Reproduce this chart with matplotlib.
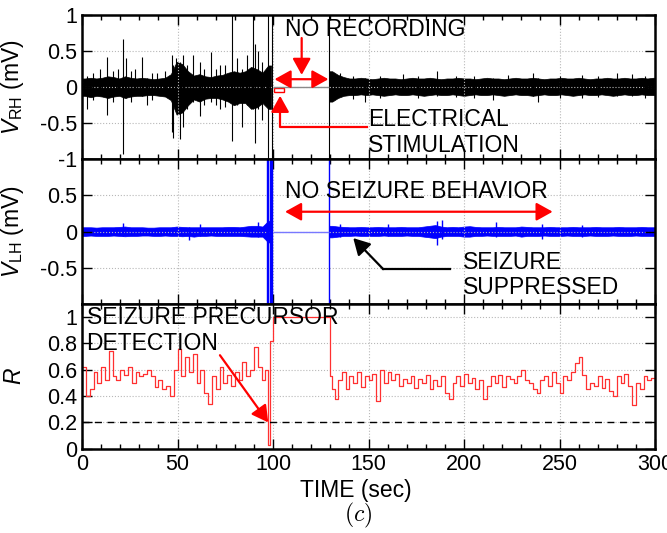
import numpy as np
import matplotlib
matplotlib.use("Agg")
import matplotlib.pyplot as plt
from matplotlib.patches import Rectangle
from matplotlib.ticker import MultipleLocator

plt.rcParams['font.family'] = ['Liberation Sans', 'DejaVu Sans']
plt.rcParams['mathtext.fontset'] = 'custom'
plt.rcParams['mathtext.rm'] = 'Liberation Sans'
plt.rcParams['mathtext.it'] = 'Liberation Sans:italic'
plt.rcParams['axes.unicode_minus'] = False

# noise envelope (mV) in 3 s bins, before and after the gap
BIN = 3.0
PRE_START = 0.0
POST_START = 129.5

rh_pre_hi = [0.12, 0.13, 0.12, 0.13, 0.15, 0.14, 0.12, 0.15, 0.13, 0.12,
             0.13, 0.12, 0.11, 0.12, 0.13, 0.18, 0.35, 0.32, 0.22, 0.16,
             0.18, 0.15, 0.14, 0.16, 0.17, 0.20, 0.22, 0.20, 0.22, 0.28,
             0.25, 0.20, 0.30]
rh_pre_lo = [-0.12, -0.14, -0.12, -0.13, -0.15, -0.13, -0.12, -0.15, -0.13, -0.12,
             -0.12, -0.11, -0.11, -0.12, -0.13, -0.18, -0.38, -0.35, -0.25, -0.17,
             -0.20, -0.16, -0.15, -0.15, -0.17, -0.20, -0.25, -0.22, -0.22, -0.30,
             -0.28, -0.22, -0.30]
rh_post_hi = [0.22, 0.17, 0.14, 0.12, 0.12, 0.13, 0.12, 0.11, 0.12, 0.13,
              0.12, 0.12, 0.11, 0.12, 0.13, 0.12, 0.12, 0.13, 0.12, 0.11,
              0.12, 0.12, 0.13, 0.12, 0.12, 0.11, 0.12, 0.13, 0.12, 0.12,
              0.11, 0.12, 0.13, 0.12, 0.12, 0.13, 0.12, 0.11, 0.12, 0.12,
              0.13, 0.12, 0.12, 0.13, 0.12, 0.11, 0.12, 0.12, 0.13, 0.12,
              0.12, 0.13, 0.12, 0.12, 0.13, 0.12, 0.13]
rh_post_lo = [-0.20, -0.15, -0.12, -0.11, -0.11, -0.10, -0.11, -0.10, -0.11, -0.12,
              -0.11, -0.10, -0.11, -0.11, -0.10, -0.11, -0.12, -0.11, -0.10, -0.11,
              -0.11, -0.10, -0.11, -0.12, -0.11, -0.10, -0.11, -0.11, -0.10, -0.11,
              -0.12, -0.11, -0.10, -0.11, -0.11, -0.12, -0.11, -0.10, -0.11, -0.11,
              -0.10, -0.11, -0.12, -0.11, -0.10, -0.11, -0.11, -0.10, -0.11, -0.12,
              -0.11, -0.10, -0.11, -0.11, -0.10, -0.11, -0.11]

# isolated spikes on the right hemisphere trace (time, min, max)
rh_spike_t = [2.8, 5.5, 9.4, 13.2, 16.0, 19.0, 21.6, 23.0, 25.5, 27.7, 31.2, 33.8,
              36.5, 39.0, 43.4, 46.9, 47.8, 49.2, 51.3, 53.0, 55.0, 57.9, 61.7,
              64.0, 67.4, 70.0, 72.2, 75.0, 78.3, 81.3, 83.5, 86.2, 89.3, 90.5,
              92.3, 94.0, 97.5, 99.3, 129.4,
              135.0, 142.0, 148.0, 156.0, 168.0, 176.0, 185.7, 196.0, 205.0,
              215.0, 223.0, 236.0, 238.5, 250.0, 262.0, 270.0, 280.0, 287.8, 295.0]
rh_spike_lo = [-0.30, -0.18, -0.10, -0.38, -0.20, -0.10, -0.92, -0.15, -0.20, -0.10,
               -0.12, -0.25, -0.18, -0.10, -0.12, -0.62, -0.70, -0.30, -0.72, -0.55,
               -0.30, -0.20, -0.40, -0.25, -0.20, -0.25, -0.30, -0.28, -0.75, -0.25,
               -0.55, -0.25, -0.30, -0.78, -0.30, -0.45, -1.0, -1.0, -1.0,
               -0.12, -0.16, -0.20, -0.15, -0.10, -0.15, -0.12, -0.14, -0.15,
               -0.18, -0.10, -0.12, -0.20, -0.15, -0.15, -0.14, -0.12, -0.12, -0.15]
rh_spike_hi = [0.15, 0.20, 0.25, 0.42, 0.22, 0.25, 0.66, 0.40, 0.22, 0.25,
               0.42, 0.12, 0.20, 0.20, 0.22, 0.45, 0.30, 0.40, 0.35, 0.45,
               0.30, 0.45, 0.35, 0.25, 0.48, 0.25, 0.30, 0.30, 1.0, 0.40,
               0.25, 0.45, 1.0, 0.60, 0.50, 0.35, 1.0, 1.0, 1.0,
               0.20, 0.16, 0.12, 0.16, 0.18, 0.16, 0.22, 0.15, 0.16,
               0.12, 0.17, 0.20, 0.12, 0.16, 0.17, 0.15, 0.20, 0.18, 0.16]

lh_pre_hi = [0.06, 0.06, 0.055, 0.06, 0.06, 0.06, 0.065, 0.07, 0.06, 0.06,
             0.06, 0.055, 0.055, 0.06, 0.06, 0.06, 0.07, 0.065, 0.06, 0.06,
             0.06, 0.06, 0.06, 0.06, 0.06, 0.065, 0.065, 0.06, 0.07, 0.08,
             0.08, 0.07, 0.15]
lh_pre_lo = [-0.06, -0.055, -0.06, -0.06, -0.06, -0.055, -0.06, -0.065, -0.06, -0.06,
             -0.055, -0.055, -0.06, -0.06, -0.055, -0.06, -0.06, -0.065, -0.06, -0.07,
             -0.06, -0.06, -0.055, -0.06, -0.06, -0.06, -0.06, -0.06, -0.065, -0.07,
             -0.07, -0.07, -0.15]
lh_post_hi = [0.08, 0.07, 0.065, 0.06, 0.06, 0.065, 0.06, 0.06, 0.065, 0.06,
              0.06, 0.06, 0.065, 0.06, 0.06, 0.06, 0.07, 0.08, 0.09, 0.07,
              0.06, 0.065, 0.06, 0.07, 0.075, 0.065, 0.06, 0.06, 0.06, 0.065,
              0.06, 0.06, 0.06, 0.07, 0.065, 0.06, 0.06, 0.06, 0.065, 0.06,
              0.06, 0.06, 0.065, 0.06, 0.06, 0.06, 0.065, 0.06, 0.06, 0.06,
              0.065, 0.06, 0.06, 0.06, 0.065, 0.06, 0.06]
lh_post_lo = [-0.08, -0.07, -0.06, -0.06, -0.055, -0.06, -0.06, -0.06, -0.06, -0.055,
              -0.06, -0.06, -0.06, -0.055, -0.06, -0.06, -0.07, -0.08, -0.09, -0.07,
              -0.06, -0.06, -0.06, -0.07, -0.07, -0.06, -0.06, -0.055, -0.06, -0.06,
              -0.06, -0.06, -0.055, -0.07, -0.06, -0.06, -0.06, -0.055, -0.06, -0.06,
              -0.06, -0.055, -0.06, -0.06, -0.06, -0.055, -0.06, -0.06, -0.06, -0.055,
              -0.06, -0.06, -0.06, -0.055, -0.06, -0.06, -0.06]

lh_spike_t = [21.5, 56.0, 62.0, 92.0, 97.0, 97.6, 98.2, 98.8, 99.4, 129.4,
              135.0, 160.0, 186.0, 188.5, 217.0, 241.0, 262.0]
lh_spike_lo = [-0.06, -0.11, -0.06, -0.07, -1.0, -1.0, -1.0, -1.0, -1.0, -1.0,
               -0.08, -0.06, -0.18, -0.10, -0.08, -0.10, -0.07]
lh_spike_hi = [0.12, 0.06, 0.10, 0.13, 1.0, 1.0, 1.0, 1.0, 1.0, 1.0,
               0.10, 0.10, 0.15, 0.16, 0.13, 0.10, 0.09]

# synchrony index R, step values
r_pre = [0.62, 0.40, 0.45, 0.58, 0.50, 0.62, 0.52, 0.74, 0.55, 0.52,
         0.60, 0.56, 0.62, 0.50, 0.58, 0.55, 0.57, 0.60, 0.55, 0.47,
         0.52, 0.45, 0.48, 0.40, 0.60, 0.76, 0.55, 0.70, 0.58, 0.72,
         0.50, 0.60, 0.42, 0.34, 0.55, 0.45, 0.62, 0.50, 0.56, 0.48,
         0.58, 0.52, 0.66, 0.55, 0.60, 0.77, 0.62, 0.52, 0.60]
r_evt_t = [97.5, 98.6, 99.8, 129.8, 131.0, 132.5]
r_evt = [0.03, 0.82, 1.0, 0.55, 0.45, 0.38]
r_post = [0.52, 0.58, 0.45, 0.55, 0.50, 0.58, 0.47, 0.55, 0.52, 0.57,
          0.36, 0.60, 0.50, 0.58, 0.52, 0.57, 0.48, 0.53, 0.50, 0.55,
          0.46, 0.53, 0.50, 0.56, 0.45, 0.52, 0.48, 0.55, 0.42, 0.38,
          0.50, 0.55, 0.48, 0.57, 0.50, 0.54, 0.45, 0.52, 0.38, 0.48,
          0.55, 0.50, 0.56, 0.47, 0.55, 0.53, 0.50, 0.55, 0.60, 0.52,
          0.50, 0.45, 0.42, 0.52, 0.55, 0.48, 0.58, 0.50, 0.42, 0.55,
          0.52, 0.58, 0.65, 0.70, 0.56, 0.45, 0.50, 0.48, 0.55, 0.46,
          0.53, 0.44, 0.40, 0.55, 0.50, 0.57, 0.48, 0.33, 0.50, 0.45,
          0.55, 0.52, 0.54]
R_THRESHOLD = 0.2

GAP = (100.0, 129.4)


def band(ax, start, hi, lo, color):
    t = start + BIN * np.arange(len(hi) + 1)
    t_mid = np.concatenate([[t[0]], (t[:-1] + t[1:]) / 2, [t[-1]]])
    lo_e = [lo[0]] + list(lo) + [lo[-1]]
    hi_e = [hi[0]] + list(hi) + [hi[-1]]
    ax.fill_between(t_mid, lo_e, hi_e, facecolor=color, edgecolor=color, lw=0.5)


def style(ax):
    ax.set_xlim(0, 300)
    ax.set_xticks(range(0, 301, 50))
    ax.xaxis.set_minor_locator(MultipleLocator(10))
    ax.tick_params(which='both', direction='in', top=True, right=True,
                   labelsize=15.5, width=1)
    ax.tick_params(which='major', length=7)
    ax.tick_params(which='minor', length=3.5)
    ax.grid(True, which='major', ls=':', color='#b8b8b8', lw=0.8)
    for s in ax.spines.values():
        s.set_linewidth(1.8)


fig = plt.figure(figsize=(6.67, 5.33), dpi=100)
ax1 = fig.add_axes([0.123, 0.701, 0.859, 0.271])
ax2 = fig.add_axes([0.123, 0.430, 0.859, 0.271])
ax3 = fig.add_axes([0.123, 0.158, 0.859, 0.272])

red = '#ff0000'
head = '-|>,head_length=0.9,head_width=0.5'
dhead = '<|-|>,head_length=0.9,head_width=0.5'
ms = 11
fs = 16.5

# top: right hemisphere
band(ax1, PRE_START, rh_pre_hi, rh_pre_lo, 'k')
band(ax1, POST_START, rh_post_hi, rh_post_lo, 'k')
ax1.vlines(rh_spike_t, rh_spike_lo, rh_spike_hi, color='k', lw=0.8)
ax1.hlines(0, GAP[0], GAP[1], color='#8a8a8a', lw=1)
ax1.set_ylim(-1, 1)
ax1.set_yticks([-1, -0.5, 0, 0.5, 1], ['-1', '-0.5', '0', '0.5', '1'])
ax1.set_ylabel(r'$V_{\rm RH}$ (mV)', fontsize=fs)
ax1.text(106.3, 0.8, 'NO RECORDING', fontsize=fs, va='center', ha='left')
ax1.annotate('', xy=(115, 0.17), xytext=(115, 0.68),
             arrowprops=dict(arrowstyle=head, color=red, lw=1.6, mutation_scale=ms,
                             shrinkA=0, shrinkB=0))
ax1.annotate('', xy=(100.8, 0.11), xytext=(129, 0.11),
             arrowprops=dict(arrowstyle=dhead, color=red, lw=1.6, mutation_scale=ms,
                             shrinkA=0, shrinkB=0))
ax1.add_patch(Rectangle((100.3, -0.065), 5.7, 0.05, fill=False, ec=red, lw=1))
ax1.plot([103.7, 103.7, 149.0], [-0.3, -0.555, -0.555], color=red, lw=1.6)
ax1.annotate('', xy=(103.7, -0.12), xytext=(103.7, -0.35),
             arrowprops=dict(arrowstyle=head, color=red, lw=1.6, mutation_scale=ms,
                             shrinkA=0, shrinkB=0))
ax1.text(149.8, -0.63, 'ELECTRICAL\nSTIMULATION', fontsize=fs, va='center',
         ha='left', linespacing=1.15)

# middle: left hemisphere
band(ax2, PRE_START, lh_pre_hi, lh_pre_lo, '#0000ff')
band(ax2, POST_START, lh_post_hi, lh_post_lo, '#0000ff')
ax2.vlines(lh_spike_t, lh_spike_lo, lh_spike_hi, color='#0000ff', lw=1.0)
ax2.hlines(0, GAP[0], GAP[1], color='#7878ff', lw=1)
ax2.set_ylim(-1, 1)
ax2.set_yticks([-0.5, 0, 0.5], ['-0.5', '0', '0.5'])
ax2.set_ylabel(r'$V_{\rm LH}$ (mV)', fontsize=fs)
ax2.text(106.3, 0.55, 'NO SEIZURE BEHAVIOR', fontsize=fs, va='center', ha='left')
ax2.annotate('', xy=(106.3, 0.275), xytext=(246.4, 0.275),
             arrowprops=dict(arrowstyle=dhead, color=red, lw=1.6, mutation_scale=ms,
                             shrinkA=0, shrinkB=0))
ax2.plot([192.7, 157.7], [-0.52, -0.52], color='k', lw=1.6)
ax2.annotate('', xy=(142, -0.09), xytext=(157.7, -0.52),
             arrowprops=dict(arrowstyle=head, color='k', lw=1.6, mutation_scale=ms,
                             shrinkA=0, shrinkB=0))
ax2.text(199.5, -0.6, 'SEIZURE\nSUPPRESSED', fontsize=fs, va='center',
         ha='left', linespacing=1.15)

# bottom: R
r_t = np.concatenate([PRE_START + 2.0 * np.arange(len(r_pre)), r_evt_t,
                      134.0 + 2.0 * np.arange(len(r_post)), [300.0]])
r_v = np.concatenate([r_pre, r_evt, r_post, [r_post[-1]]])
ax3.step(r_t, r_v, where='post', color='#ff3030', lw=0.9)
ax3.axhline(R_THRESHOLD, color='k', ls=(0, (5, 4)), lw=1)
ax3.set_ylim(0, 1.1)
ax3.set_yticks([0, 0.2, 0.4, 0.6, 0.8, 1], ['0', '0.2', '0.4', '0.6', '0.8', '1'])
ax3.set_ylabel(r'$R$', fontsize=fs)
ax3.text(2.4, 0.895, 'SEIZURE PRECURSOR\nDETECTION', fontsize=fs, va='center',
         ha='left', linespacing=1.15)
ax3.annotate('', xy=(97.5, 0.2), xytext=(72.2, 0.71),
             arrowprops=dict(arrowstyle=head, color=red, lw=1.6, mutation_scale=ms,
                             shrinkA=0, shrinkB=0))

for ax in (ax1, ax2, ax3):
    style(ax)
    ax.yaxis.set_label_coords(-0.098, 0.5)
ax1.tick_params(labelbottom=False)
ax2.tick_params(labelbottom=False)

fig.text(356 / 667, 1 - 491 / 533, 'TIME (sec)', fontsize=fs, ha='center', va='center')
fig.text(358 / 667, 1 - 515 / 533, r'$(c)$', fontsize=17, ha='center', va='center',
         math_fontfamily='cm')

fig.savefig('out.png', dpi=100)
